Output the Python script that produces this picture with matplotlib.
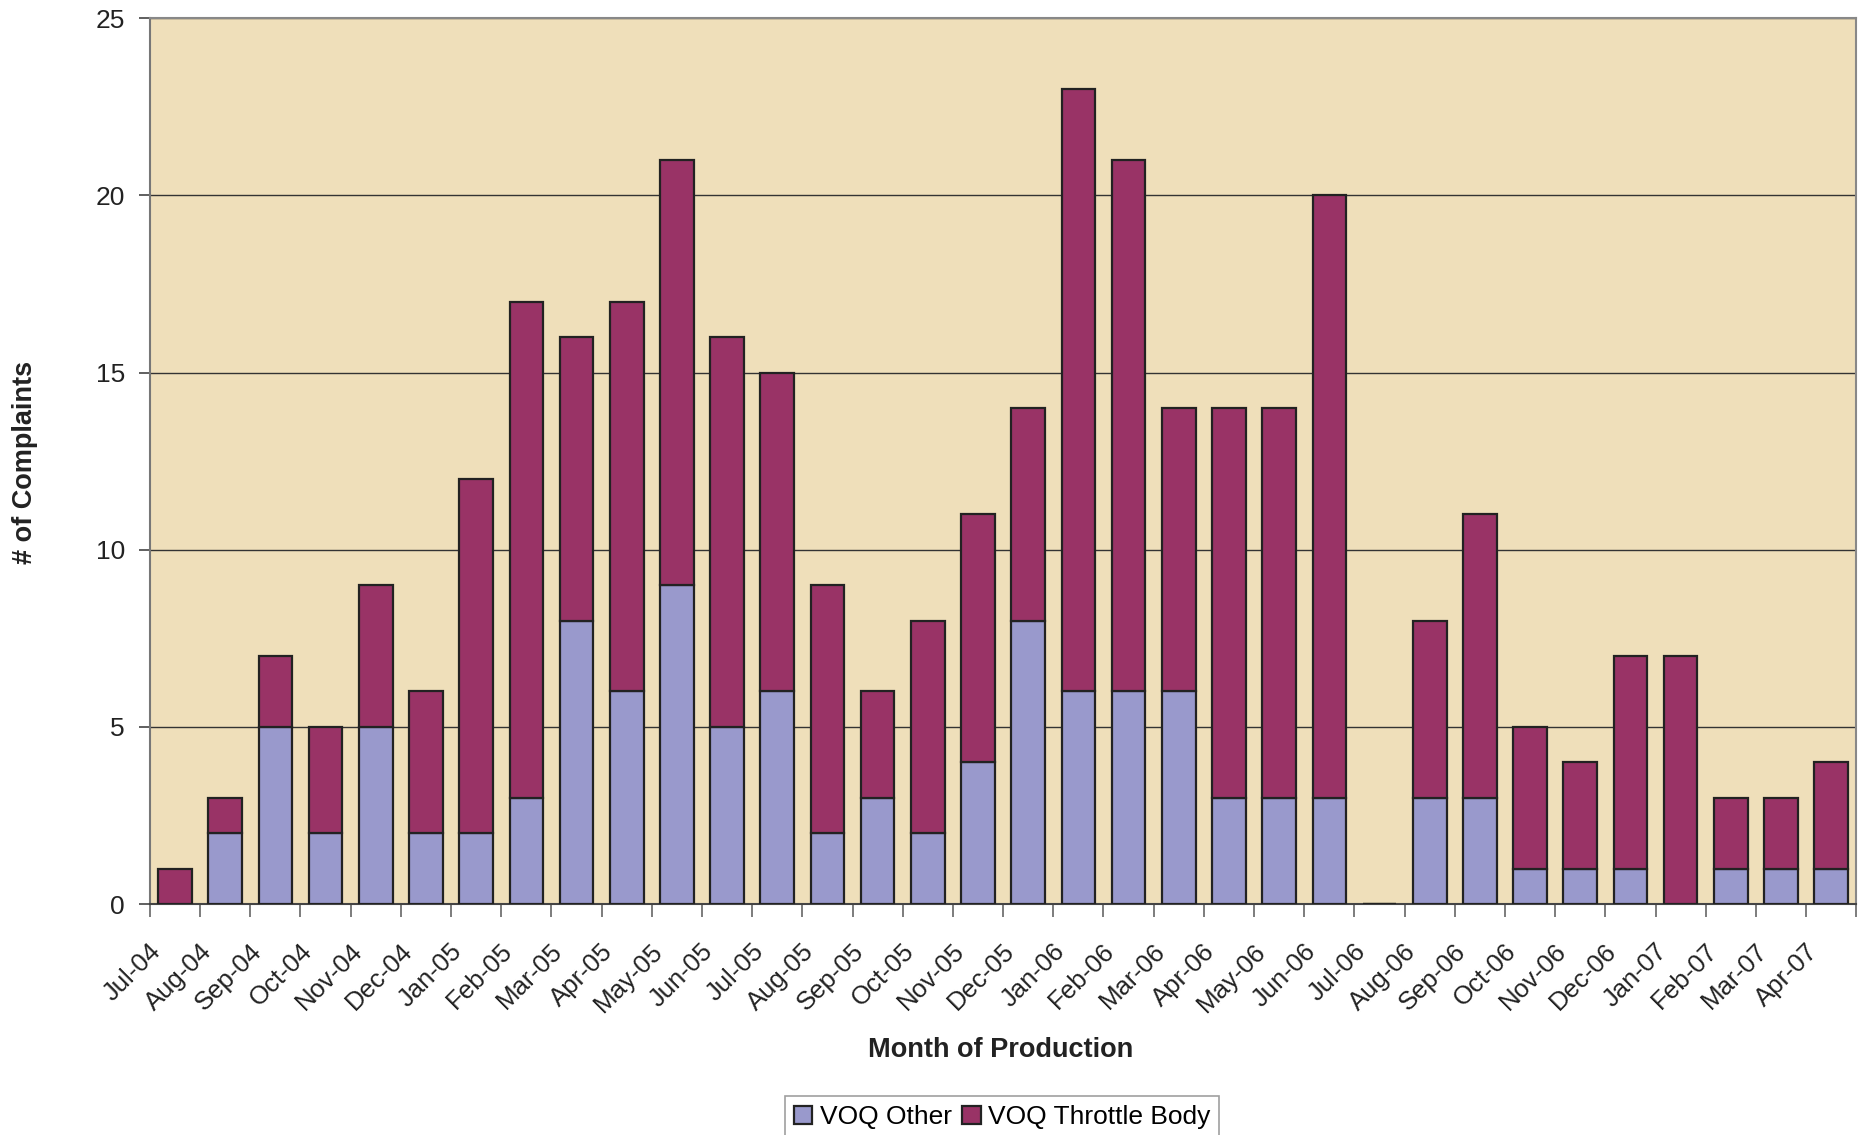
import numpy as np
import matplotlib.pyplot as plt
import matplotlib.transforms as mtransforms

plt.rcParams['font.family'] = ['Liberation Sans', 'DejaVu Sans']

# ---- data ----
months = ['Jul-04', 'Aug-04', 'Sep-04', 'Oct-04', 'Nov-04', 'Dec-04',
          'Jan-05', 'Feb-05', 'Mar-05', 'Apr-05', 'May-05', 'Jun-05',
          'Jul-05', 'Aug-05', 'Sep-05', 'Oct-05', 'Nov-05', 'Dec-05',
          'Jan-06', 'Feb-06', 'Mar-06', 'Apr-06', 'May-06', 'Jun-06',
          'Jul-06', 'Aug-06', 'Sep-06', 'Oct-06', 'Nov-06', 'Dec-06',
          'Jan-07', 'Feb-07', 'Mar-07', 'Apr-07']
voq_other = [0, 2, 5, 2, 5, 2, 2, 3, 8, 6, 9, 5,
             6, 2, 3, 2, 4, 8, 6, 6, 6, 3, 3, 3,
             0, 3, 3, 1, 1, 1, 0, 1, 1, 1]
voq_throttle = [1, 1, 2, 3, 4, 4, 10, 14, 8, 11, 12, 11,
                9, 7, 3, 6, 7, 6, 17, 15, 8, 11, 11, 17,
                0, 5, 8, 4, 3, 6, 7, 2, 2, 3]

fig = plt.figure(figsize=(18.6, 11.35), dpi=100)
ax = fig.add_axes([0.0806, 0.2035, 0.9174, 0.7805])
ax.set_facecolor('#EFDFBA')

x = np.arange(len(months))
w = 0.67
ax.bar(x, voq_other, w, color='#9999CC', edgecolor='#222222', linewidth=1.6,
       label='VOQ Other', zorder=3)
ax.bar(x, voq_throttle, w, bottom=voq_other, color='#993366',
       edgecolor='#222222', linewidth=1.6, label='VOQ Throttle Body', zorder=3)

ax.set_xlim(-0.5, len(months) - 0.5)
ax.set_ylim(0, 25)
ax.set_yticks([0, 5, 10, 15, 20, 25])
ax.yaxis.grid(True, color='#333333', linewidth=1.0, zorder=1)
ax.set_axisbelow(True)

for s in ['top', 'right']:
    ax.spines[s].set_color('#888888')
    ax.spines[s].set_linewidth(1.5)
ax.spines['left'].set_color('#777777')
ax.spines['left'].set_linewidth(1.5)
ax.spines['bottom'].set_color('#444444')
ax.spines['bottom'].set_linewidth(1.5)

ax.tick_params(axis='y', direction='out', length=8, width=1.2, color='#444444',
               labelsize=19, pad=10, labelcolor='#222222')

# tick marks at category boundaries, labels placed at category centres
ax.set_xticks(np.arange(len(months) + 1) - 0.5)
ax.set_xticklabels([])
ax.tick_params(axis='x', direction='out', length=9, width=1.2, color='#666666')
lab_tr = ax.get_xaxis_transform() + mtransforms.ScaledTranslation(
    -0.09, -0.35, fig.dpi_scale_trans)
for xi, m in zip(x, months):
    ax.text(xi, 0, m, transform=lab_tr, rotation=45, ha='right', va='top',
            fontsize=18.5, color='#222222')

fig.text(1001 / 1860, 1 - 1050 / 1135, 'Month of Production', ha='center',
         va='center', fontsize=19.5, fontweight='bold', color='#222222')
fig.text(25 / 1860, 1 - 462 / 1135, '# of Complaints', ha='center',
         va='center', rotation=90, fontsize=19.5, fontweight='bold',
         color='#222222')

leg = fig.legend(loc='upper center', bbox_to_anchor=(1002 / 1860, 1 - 1096 / 1135),
                 ncol=2, fontsize=19, frameon=True, fancybox=False,
                 handlelength=0.7, handleheight=0.7, handletextpad=0.27,
                 columnspacing=0.4, borderpad=0.35, borderaxespad=0)
leg.get_frame().set_edgecolor('#888888')
leg.get_frame().set_linewidth(1.2)

fig.savefig('out.png', dpi=100)
